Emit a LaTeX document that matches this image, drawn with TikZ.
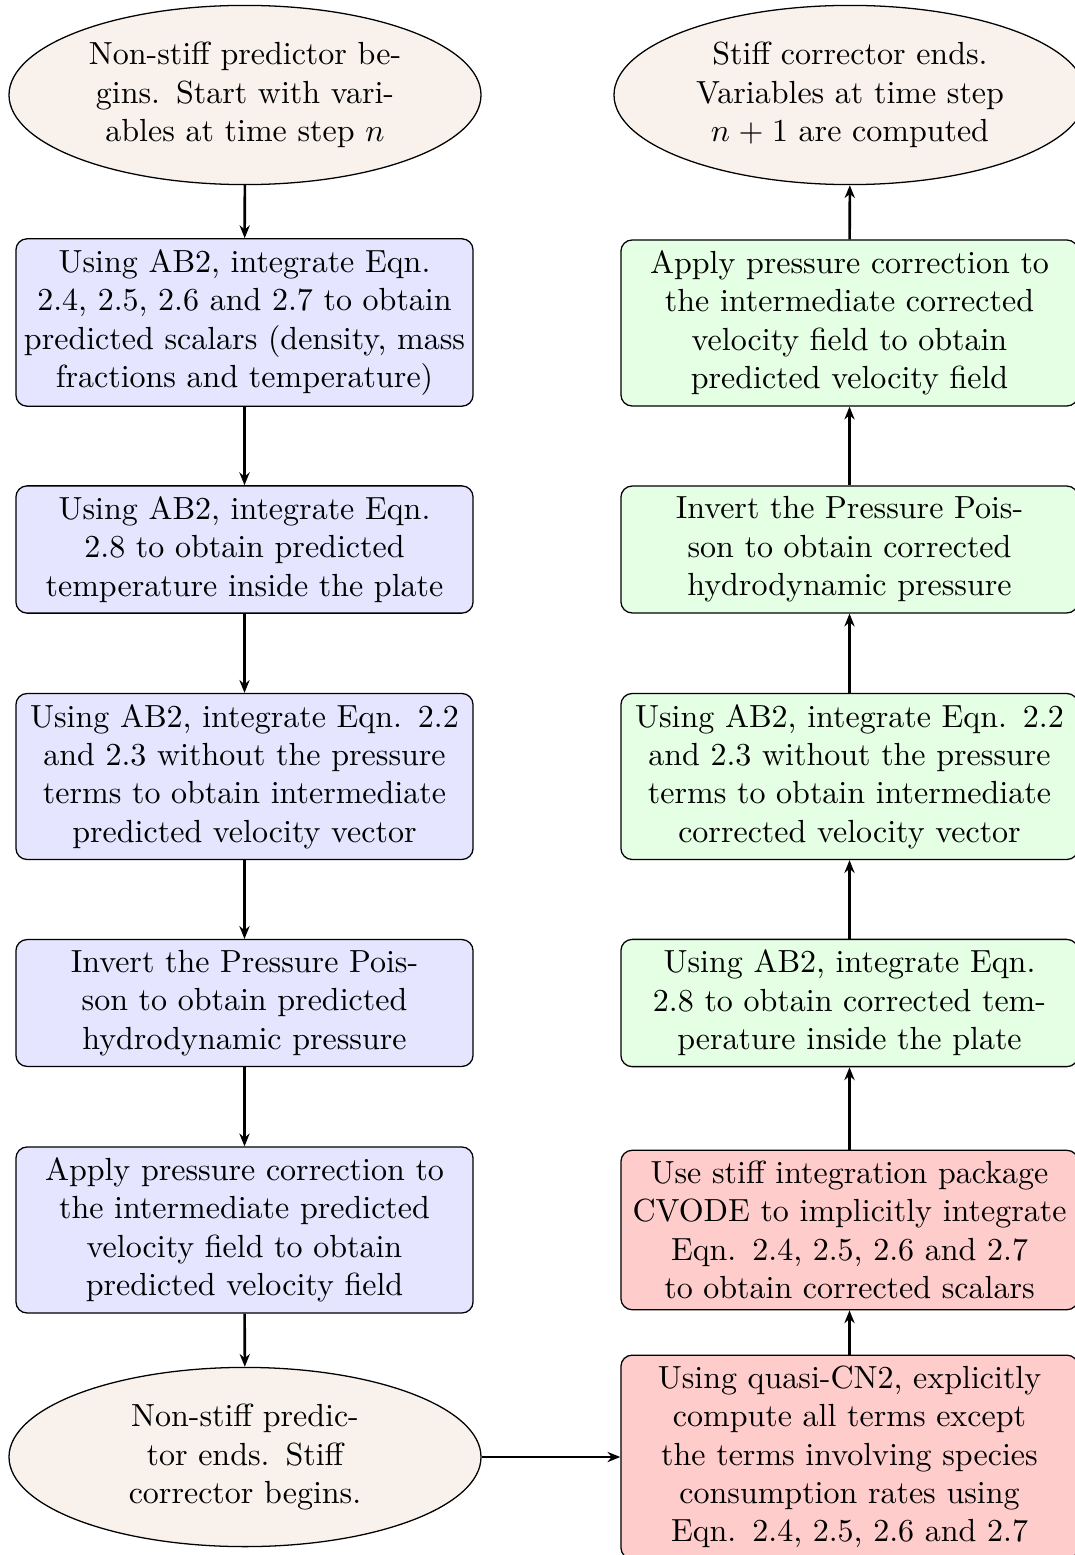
\documentclass[tikz,border=0pt]{standalone}
\usetikzlibrary{shapes.geometric,arrows.meta}

\tikzset{
  procbox/.style={draw, rounded corners=3.5pt, text width=5cm, align=center,
    minimum width=142.8pt, inner xsep=0.3pt, inner ysep=0.3333em},
  predbox/.style={procbox, fill=blue!10},
  corrbox/.style={procbox, fill=green!10},
  stiffbox/.style={procbox, fill=red!20},
  terminal/.style={draw, ellipse, fill=brown!10, text width=3.6cm, align=center,
    minimum width=147.5pt, minimum height=56pt, inner sep=0pt},
  flow/.style={thick, -{Stealth[length=4pt,width=3.2pt]}}
}

\begin{document}
\begin{tikzpicture}[x=0.3125pt, y=-0.3125pt]
  \useasboundingbox (0,0) rectangle (1075,1555);
  \clip (0,0) rectangle (1075,1555);

  % predictor column
  \node[terminal] (e1) at (245,95) {Non-stiff predictor be-\\gins. Start with vari-\\ables at time step $n$};
  \node[predbox, minimum height=51.6pt] (b1) at (244.5,322.5) {Using AB2, integrate Eqn.\\2.4, 2.5, 2.6 and 2.7 to obtain\\predicted scalars (density, mass\\fractions and temperature)};
  \node[predbox, minimum height=39.1pt] (b2) at (244.5,549.5) {Using AB2, integrate Eqn.\\2.8 to obtain predicted\\temperature inside the plate};
  \node[predbox, minimum height=50.9pt] (b3) at (244.5,776.5) {Using AB2, integrate Eqn. 2.2\\and 2.3 without the pressure\\terms to obtain intermediate\\predicted velocity vector};
  \node[predbox, minimum height=39.4pt] (b4) at (244.5,1003) {Invert the Pressure Pois-\\son to obtain predicted\\hydrodynamic pressure};
  \node[predbox, minimum height=51.25pt] (b5) at (244.5,1230) {Apply pressure correction to\\the intermediate predicted\\velocity field to obtain\\predicted velocity field};
  \node[terminal] (e2) at (245,1457) {Non-stiff predic-\\tor ends. Stiff\\corrector begins.};

  % corrector column
  \node[stiffbox, minimum height=63.1pt] (r6) at (849.5,1457) {Using quasi-CN2, explicitly\\compute all terms except\\the terms involving species\\consumption rates using\\Eqn. 2.4, 2.5, 2.6 and 2.7};
  \node[stiffbox, minimum height=49.7pt] (r5) at (849.5,1230) {Use stiff integration package\\CVODE to implicitly integrate\\Eqn. 2.4, 2.5, 2.6 and 2.7\\to obtain corrected scalars};
  \node[corrbox, minimum height=39.4pt] (r4) at (849.5,1003) {Using AB2, integrate Eqn.\\2.8 to obtain corrected tem-\\perature inside the plate};
  \node[corrbox, minimum height=50.9pt] (r3) at (849.5,776.5) {Using AB2, integrate Eqn. 2.2\\and 2.3 without the pressure\\terms to obtain intermediate\\corrected velocity vector};
  \node[corrbox, minimum height=39.1pt] (r2) at (849.5,549.5) {Invert the Pressure Pois-\\son to obtain corrected\\hydrodynamic pressure};
  \node[corrbox, minimum height=51.6pt] (r1) at (849.5,323) {Apply pressure correction to\\the intermediate corrected\\velocity field to obtain\\predicted velocity field};
  \node[terminal] (e3) at (850,95) {Stiff corrector ends.\\Variables at time step\\$n+1$ are computed};

  % connectors
  \draw[flow] (e1) -- (b1);
  \draw[flow] (b1) -- (b2);
  \draw[flow] (b2) -- (b3);
  \draw[flow] (b3) -- (b4);
  \draw[flow] (b4) -- (b5);
  \draw[flow] (b5) -- (e2);
  \draw[flow] (e2) -- (r6);
  \draw[flow] (r6) -- (r5);
  \draw[flow] (r5) -- (r4);
  \draw[flow] (r4) -- (r3);
  \draw[flow] (r3) -- (r2);
  \draw[flow] (r2) -- (r1);
  \draw[flow] (r1) -- (e3);
\end{tikzpicture}
\end{document}
